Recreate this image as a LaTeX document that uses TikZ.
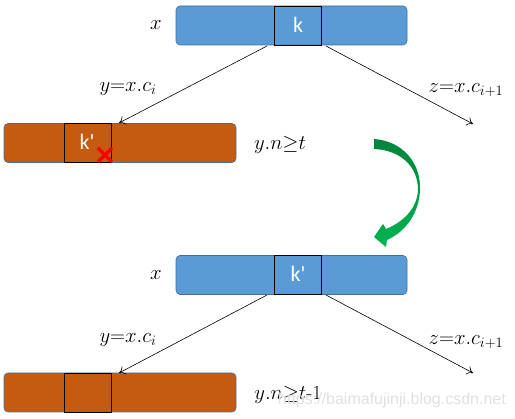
\documentclass[tikz,border=0pt]{standalone}
\usepackage{fontspec}
\newfontfamily\carl{Carlito}
\newfontfamily\wmfont{Liberation Sans}
\usetikzlibrary{arrows.meta}
\definecolor{bfill}{RGB}{91,155,213}
\definecolor{bline}{RGB}{65,113,156}
\definecolor{ofill}{RGB}{197,90,17}
\definecolor{gdark}{RGB}{0,132,60}
\definecolor{glight}{RGB}{0,180,80}
\definecolor{wmgray}{RGB}{224,224,224}
\tikzset{
  bluebox/.style={draw=bline, fill=bfill, rounded corners=4pt, line width=0.6pt, minimum width=231pt, minimum height=39pt, inner sep=0pt},
  orangebox/.style={draw=bline, fill=ofill, rounded corners=4pt, line width=0.6pt, minimum width=232pt, minimum height=39pt, inner sep=0pt},
  keybox/.style={draw=black, line width=0.9pt, minimum width=47pt, minimum height=39pt, inner sep=0pt},
  keytext/.style={inner sep=0pt, text=white, font=\carl\fontsize{22}{24}\selectfont},
  lbl/.style={inner sep=0pt, font=\fontsize{20}{22}\selectfont},
  arr/.style={line width=0.6pt, -{To[length=6pt,width=9pt]}},
}
\begin{document}
\begin{tikzpicture}[x=1pt,y=-1pt]
\useasboundingbox (0,0) rectangle (515,419);
% ---------- top part ----------
\node[bluebox] (x1) at (291.5,25.5) {};
\node[keybox] (k1) at (298,25.5) {};
\node[keytext] (t1) at (298,24.5) {k};
\node[lbl] (lx1) at (156,25) {$x$};
\node[orangebox] (y1) at (120,143) {};
\node[keybox] (kp1) at (88,143) {};
\node[keytext] (tp1) at (87,142) {k'};
\node[lbl] (ln1) at (280,145) {$y.n{\geq}t$};
\node[lbl] (ly1) at (128,89) {$y{=}x.c_i$};
\node[lbl] (lz1) at (466,90) {$z{=}x.c_{i+1}$};
\coordinate (a1) at (267,46);
\coordinate (b1) at (119,123);
\coordinate (c1) at (326,46);
\coordinate (d1) at (473,124);
\draw[arr] (a1) -- (b1);
\draw[arr] (c1) -- (d1);
\draw[red, line width=3.2pt] (98,148) -- (112,162) (98,162) -- (112,148);
% ---------- green curved arrow ----------
\shade[top color=gdark, bottom color=glight]
  (374,139) .. controls (402,141) and (421,162) .. (420,190)
  .. controls (419,214) and (405,232) .. (387,240)
  -- (386,247) -- (374,237) -- (383,224) -- (386,229)
  .. controls (403,222) and (417,209) .. (418,190)
  .. controls (418,166) and (400,150) .. (374,149) -- cycle;
% ---------- bottom part ----------
\node[bluebox] (x2) at (291.5,275) {};
\node[keybox] (k2) at (298,275) {};
\node[keytext] (t2) at (298,274) {k'};
\node[lbl] (lx2) at (156,275) {$x$};
\node[orangebox] (y2) at (120,392.5) {};
\node[keybox] (kp2) at (88,392.5) {};
\node[lbl] (ly2) at (128,340) {$y{=}x.c_i$};
\node[lbl] (lz2) at (466,342) {$z{=}x.c_{i+1}$};
\coordinate (a2) at (267,295);
\coordinate (b2) at (119,373);
\coordinate (c2) at (326,295);
\coordinate (d2) at (473,373);
\draw[arr] (a2) -- (b2);
\draw[arr] (c2) -- (d2);
\node[lbl] (ln2) at (288,395) {$y.n{\geq}t$-1};
\node[inner sep=0pt, text=wmgray, font=\wmfont\fontsize{16}{18}\selectfont] (wm) at (392,400) {https://baimafujinji.blog.csdn.net};
\end{tikzpicture}
\end{document}
